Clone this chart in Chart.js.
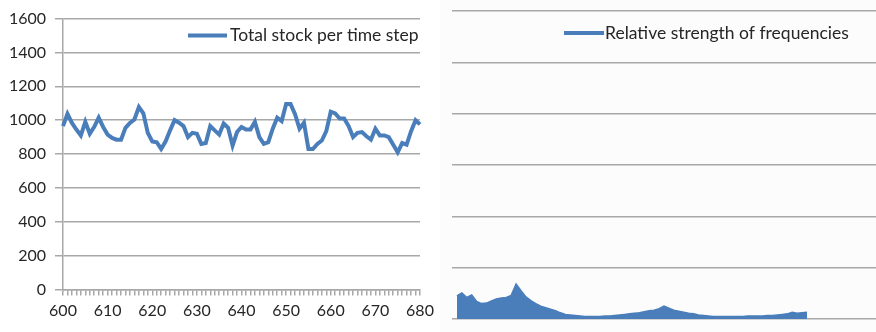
<!DOCTYPE html>
<html>
<head>
<meta charset="utf-8">
<script src="https://cdn.jsdelivr.net/npm/chart.js@4.4.1/dist/chart.umd.min.js"></script>
<style>
  html, body { margin: 0; padding: 0; background: #ffffff; }
  #wrap { position: relative; width: 876px; height: 332px; overflow: hidden; }
  #stockCanvas { position: absolute; left: 0; top: 0; }
  #freqCanvas { position: absolute; left: 440px; top: 0; background: #fcfcfc; }
</style>
</head>
<body>
<div id="wrap">
  <canvas id="stockCanvas" width="440" height="332"></canvas>
  <canvas id="freqCanvas" width="436" height="332"></canvas>
</div>
<script>
// Time steps on the left chart
const timeSteps = [600,601,602,603,604,605,606,607,608,609,610,611,612,613,614,615,616,617,618,619,
  620,621,622,623,624,625,626,627,628,629,630,631,632,633,634,635,636,637,638,639,
  640,641,642,643,644,645,646,647,648,649,650,651,652,653,654,655,656,657,658,659,
  660,661,662,663,664,665,666,667,668,669,670,671,672,673,674,675,676,677,678,679,680];

// Total stock at each time step
const totalStock = [965,1038,984,945,910,990,920,961,1015,960,915,895,885,885,955,984,1004,1078,1040,925,
  875,870,830,875,940,1000,985,965,900,925,920,860,865,965,940,915,980,955,850,930,
  960,945,945,990,900,860,870,950,1015,995,1095,1095,1035,950,985,830,830,860,880,935,
  1050,1040,1010,1010,965,900,925,930,905,885,950,910,910,900,855,810,865,855,935,1000,975];

const stockTicks = [0,200,400,600,800,1000,1200,1400,1600];

// Frequency bins on the right chart and their relative strength
const freqBins = [1,2,3,4,5,6,7,8,9,10,11,12,13,14,15,16,17,18,19,20,21,22,23,24,25,26,27,28,29,30,
  31,32,33,34,35,36,37,38,39,40,41,42,43,44,45,46,47,48,49,50,51,52,53,54,55,56,57,58,59,60,
  61,62,63,64,65,66,67,68,69,70,71,72];
const freqStrength = [0.45,0.51,0.42,0.47,0.34,0.30,0.31,0.35,0.39,0.41,0.42,0.46,0.68,0.55,0.43,0.36,0.30,0.25,0.22,0.19,
  0.16,0.12,0.09,0.08,0.07,0.06,0.05,0.05,0.05,0.05,0.06,0.06,0.07,0.08,0.09,0.10,0.11,0.12,0.14,0.16,
  0.17,0.20,0.25,0.21,0.17,0.15,0.13,0.11,0.10,0.08,0.07,0.06,0.05,0.05,0.05,0.05,0.05,0.05,0.05,0.06,
  0.06,0.06,0.06,0.07,0.07,0.08,0.09,0.10,0.13,0.11,0.12,0.13];

const BLUE = '#4a7ebb';
const GRID = '#a8a8a8';
const TEXT = '#262626';
const FONT = 'Lato';

// Series key drawn inside the plot area: a short line followed by the series name
const seriesKey = {
  id: 'seriesKey',
  afterDraw(chart, args, opts) {
    const ds = chart.data.datasets[0];
    const ctx = chart.ctx;
    const area = chart.chartArea;
    const tx = area.left + opts.left;
    const ty = area.top + opts.top;
    ctx.save();
    ctx.strokeStyle = ds.borderColor;
    ctx.lineWidth = 4;
    ctx.beginPath();
    ctx.moveTo(tx - opts.gap - opts.len, ty);
    ctx.lineTo(tx - opts.gap, ty);
    ctx.stroke();
    ctx.font = opts.size + 'px ' + FONT;
    ctx.fillStyle = TEXT;
    ctx.textBaseline = 'middle';
    ctx.fillText(ds.label, tx, ty);
    ctx.restore();
  }
};

new Chart(document.getElementById('stockCanvas'), {
  type: 'line',
  data: {
    labels: timeSteps,
    datasets: [{
      label: 'Total stock per time step',
      data: totalStock,
      borderColor: BLUE,
      borderWidth: 4,
      pointRadius: 0,
      tension: 0,
      fill: false
    }]
  },
  options: {
    responsive: false,
    animation: false,
    layout: { padding: { top: 14, right: 20, left: 0, bottom: 0 } },
    plugins: {
      legend: { display: false },
      tooltip: { enabled: false },
      seriesKey: { left: 167, top: 17, gap: 3, len: 39, size: 17.5 }
    },
    scales: {
      x: {
        type: 'category',
        offset: false,
        grid: { drawOnChartArea: false, drawTicks: true, tickLength: 6, color: GRID, lineWidth: 1.5 },
        border: { color: GRID, width: 1.5 },
        ticks: {
          autoSkip: false, maxRotation: 0, minRotation: 0, padding: 6,
          color: TEXT, font: { family: FONT, size: 16 },
          callback: (v, i) => (timeSteps[i] % 10 === 0 ? String(timeSteps[i]) : '')
        },
        afterFit(scale) { scale.height = 42.5; }
      },
      y: {
        min: stockTicks[0],
        max: stockTicks[stockTicks.length - 1],
        afterBuildTicks(scale) { scale.ticks = stockTicks.map(v => ({ value: v })); },
        grid: { color: GRID, lineWidth: 1.5, tickLength: 8 },
        border: { color: GRID, width: 1.5 },
        ticks: {
          padding: 9, color: TEXT, font: { family: FONT, size: 16 },
          callback: v => String(v)
        },
        afterFit(scale) { scale.width = 63; }
      }
    }
  },
  plugins: [seriesKey]
});

new Chart(document.getElementById('freqCanvas'), {
  type: 'line',
  data: {
    datasets: [{
      label: 'Relative strength of frequencies',
      data: freqBins.map((b, i) => ({ x: b, y: freqStrength[i] })),
      borderColor: BLUE,
      backgroundColor: BLUE,
      borderWidth: 1.5,
      pointRadius: 0,
      tension: 0,
      fill: 'origin'
    }]
  },
  options: {
    responsive: false,
    animation: false,
    layout: { padding: { top: 11, right: 0, left: 12, bottom: 13 } },
    plugins: {
      legend: { display: false },
      tooltip: { enabled: false },
      seriesKey: { left: 153, top: 22, gap: 1, len: 40, size: 17.5 }
    },
    scales: {
      x: { type: 'linear', min: 0, max: 86, display: false },
      y: {
        min: 0, max: 6,
        ticks: { display: false, stepSize: 1 },
        grid: { color: GRID, lineWidth: 1.5, drawTicks: false },
        border: { display: false }
      }
    }
  },
  plugins: [seriesKey]
});
</script>
</body>
</html>
